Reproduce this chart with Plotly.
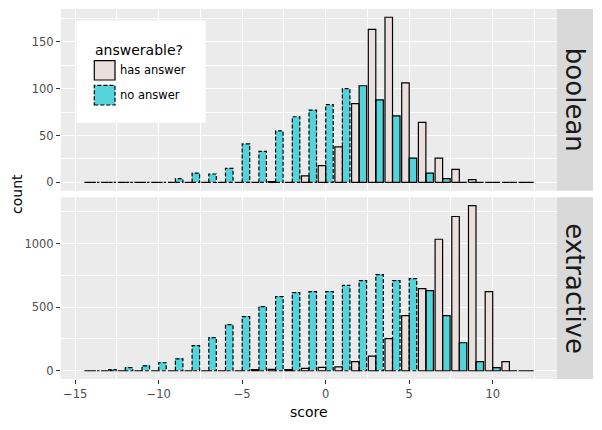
import plotly.graph_objects as go
from plotly.subplots import make_subplots

# bin centres (binwidth 1)
score_bins = list(range(-14, 13))

# counts per bin, -14 .. 12
boolean_has = [0, 0, 0, 0, 0, 0, 0, 0, 0, 0, 0, 1, 0, 7, 18, 38, 84, 163, 176, 106, 64, 26, 14, 3, 0, 0, 0]
boolean_no = [0, 0, 0, 0, 0, 4, 10, 9, 15, 41, 33, 55, 70, 77, 83, 100, 103, 88, 71, 26, 10, 4, 0, 0, 0, 0, 0]
extractive_has = [0, 0, 0, 0, 0, 0, 0, 0, 0, 0, 8, 10, 8, 18, 26, 31, 71, 115, 252, 433, 646, 1034, 1213, 1299, 622, 71, 0]
extractive_no = [0, 8, 24, 39, 63, 94, 197, 260, 362, 425, 504, 583, 614, 622, 622, 672, 709, 756, 709, 724, 630, 433, 220, 71, 24, 0, 0]

facets = ["boolean", "extractive"]
series_names = ["has answer", "no answer"]
data = {
    "boolean": [boolean_has, boolean_no],
    "extractive": [extractive_has, extractive_no],
}
# style: from which bin the "no answer" outline is drawn solid
solid_from = {"boolean": 2, "extractive": 6}

PINK = "#EBDFDD"
CYAN = "#55D3DB"
BAR_W = 0.45
FONT = "DejaVu Sans"
DASH = "4px,2px"

W, H = 602, 430
ML, MR, MT, MB = 61, 9, 9, 51
PW, PH = W - ML - MR, H - MT - MB
x_end = 496 / PW


def px(x):
    return (x - ML) / PW


def py(y):
    return 1 - (y - MT) / PH


def outline(centres, counts, offset):
    xs, ys = [], []
    for c, h in zip(centres, counts):
        x0, x1 = c + offset, c + offset + BAR_W
        xs += [x0, x0, x1, x1, x0, None]
        ys += [0, h, h, 0, 0, None]
    return xs, ys


fig = make_subplots(rows=2, cols=1, shared_xaxes=True)

for row, facet in enumerate(facets, start=1):
    has, no = data[facet]
    fig.add_trace(go.Bar(x=score_bins, y=has, offset=-BAR_W, width=BAR_W,
                         marker=dict(color=PINK, line=dict(width=0)),
                         name=series_names[0], showlegend=False), row=row, col=1)
    fig.add_trace(go.Bar(x=score_bins, y=no, offset=0, width=BAR_W,
                         marker=dict(color=CYAN, line=dict(width=0)),
                         name=series_names[1], showlegend=False), row=row, col=1)
    xs, ys = outline(score_bins, has, -BAR_W)
    fig.add_trace(go.Scatter(x=xs, y=ys, mode="lines", showlegend=False,
                             line=dict(color="black", width=1.2)), row=row, col=1)
    cut = solid_from[facet]
    dash_c = [c for c in score_bins if c < cut]
    dash_h = [h for c, h in zip(score_bins, no) if c < cut]
    sol_c = [c for c in score_bins if c >= cut]
    sol_h = [h for c, h in zip(score_bins, no) if c >= cut]
    xs, ys = outline(dash_c, dash_h, 0)
    fig.add_trace(go.Scatter(x=xs, y=ys, mode="lines", showlegend=False,
                             line=dict(color="black", width=1.2, dash=DASH)), row=row, col=1)
    xs, ys = outline(sol_c, sol_h, 0)
    fig.add_trace(go.Scatter(x=xs, y=ys, mode="lines", showlegend=False,
                             line=dict(color="black", width=1.2)), row=row, col=1)

lo, hi = score_bins[0] - 0.5, score_bins[-1] + 0.5
pad = 0.05 * (hi - lo)
xrange = [lo - pad, hi + pad]

tickfont = dict(family=FONT, size=11.5, color="#4D4D4D")
axis_common = dict(showgrid=True, gridcolor="white", gridwidth=1.1, zeroline=False,
                   ticks="outside", ticklen=4, tickcolor="#333333", tickwidth=1,
                   tickfont=tickfont, showline=False)

fig.update_xaxes(range=xrange, dtick=5, tick0=0, domain=[0, x_end],
                 minor=dict(dtick=2.5, tick0=0, showgrid=True, gridcolor="white", gridwidth=0.5),
                 **axis_common)
fig.update_xaxes(showticklabels=False, ticks="", row=1, col=1)

for row, facet in enumerate(facets, start=1):
    m = max(max(s) for s in data[facet])
    major = 50 if facet == "boolean" else 500
    fig.update_yaxes(range=[-0.05 * m, 1.05 * m], dtick=major, tick0=0,
                     minor=dict(dtick=major / 2, tick0=0, showgrid=True,
                                gridcolor="white", gridwidth=0.5),
                     **axis_common, row=row, col=1)

fig.update_yaxes(domain=[py(190.7), 1], row=1, col=1)
fig.update_yaxes(domain=[0, py(197.3)], row=2, col=1)

shapes = []
annotations = []
for yref, facet in [("y", "boolean"), ("y2", "extractive")]:
    shapes.append(dict(type="rect", xref="paper", yref=yref + " domain",
                       x0=x_end, x1=1, y0=0, y1=1, fillcolor="#D9D9D9",
                       line=dict(width=0), layer="below"))
    annotations.append(dict(text=facet, xref="paper", yref=yref + " domain",
                            x=(x_end + 1) / 2, y=0.5, showarrow=False, textangle=90,
                            xanchor="center", yanchor="middle",
                            font=dict(family=FONT, size=26, color="#1A1A1A")))

# legend drawn inside the top panel
shapes.append(dict(type="rect", xref="paper", yref="paper",
                   x0=px(76.7), x1=px(205.7), y0=py(122.7), y1=py(20.7),
                   fillcolor="white", line=dict(width=0)))
shapes.append(dict(type="rect", xref="paper", yref="paper",
                   x0=px(94.3), x1=px(115), y0=py(80), y1=py(60.7),
                   fillcolor=PINK, line=dict(color="black", width=1.2)))
shapes.append(dict(type="rect", xref="paper", yref="paper",
                   x0=px(94.3), x1=px(115), y0=py(105), y1=py(85.3),
                   fillcolor=CYAN, line=dict(color="black", width=1.2, dash=DASH)))
annotations.append(dict(text="answerable?", xref="paper", yref="paper",
                        x=px(93), y=py(49.5), xanchor="left", yanchor="middle",
                        showarrow=False, font=dict(family=FONT, size=14, color="black")))
for label, yc in zip(series_names, [70.3, 95.2]):
    annotations.append(dict(text=label, xref="paper", yref="paper",
                            x=px(118), y=py(yc), xanchor="left", yanchor="middle",
                            showarrow=False, font=dict(family=FONT, size=11.5, color="black")))

annotations.append(dict(text="count", xref="paper", yref="paper", x=px(17), y=py(194),
                        xanchor="center", yanchor="middle", textangle=-90, showarrow=False,
                        font=dict(family=FONT, size=14, color="black")))
annotations.append(dict(text="score", xref="paper", yref="paper", x=x_end / 2, y=py(412),
                        xanchor="center", yanchor="middle", showarrow=False,
                        font=dict(family=FONT, size=14, color="black")))

fig.update_layout(
    width=W, height=H,
    margin=dict(l=ML, r=MR, t=MT, b=MB),
    barmode="overlay",
    bargap=0,
    paper_bgcolor="white",
    plot_bgcolor="#EBEBEB",
    showlegend=False,
    shapes=shapes,
    annotations=annotations,
    font=dict(family=FONT),
)

# the page's default body margin would shift the figure by 8px
fig.write_html("out.html", config={"displayModeBar": False},
               post_script="document.body.style.margin='0';")
